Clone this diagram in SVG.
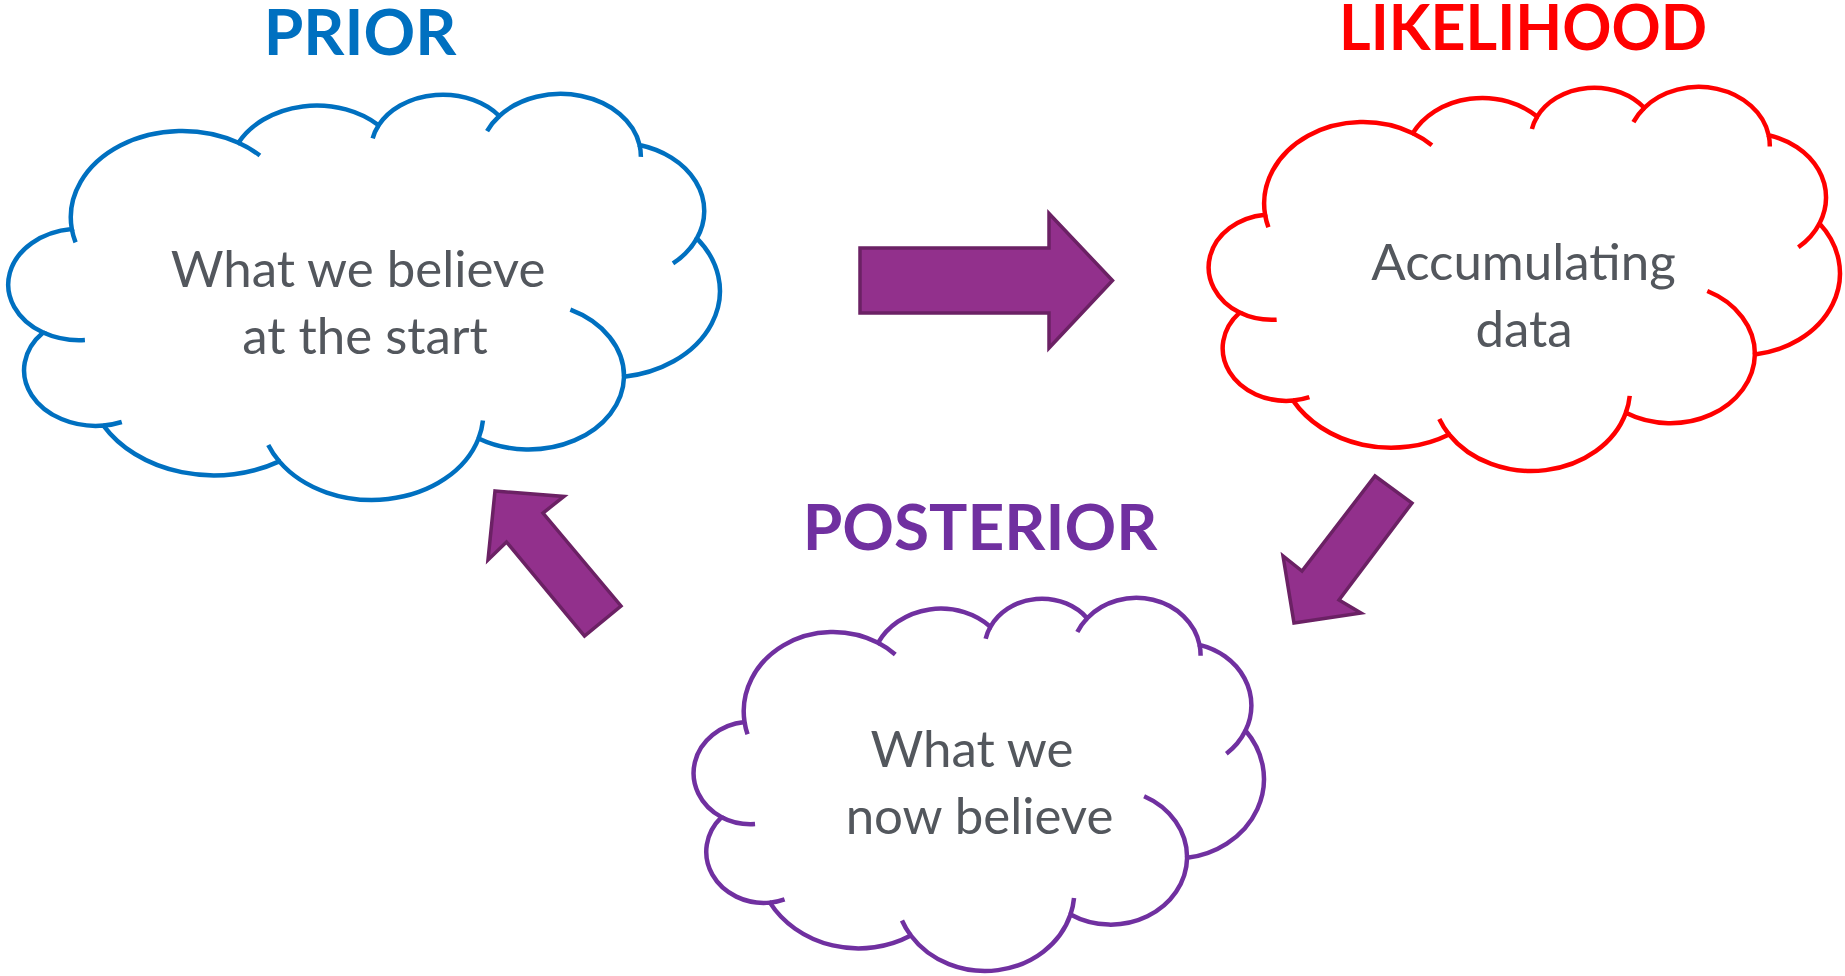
<svg xmlns="http://www.w3.org/2000/svg" xmlns:xlink="http://www.w3.org/1999/xlink" width="1845" height="976" viewBox="0 0 1845 976">
<style>
.title{font-family:Lato,"Open Sans","Liberation Sans",sans-serif;font-weight:700;font-size:64px;text-anchor:middle}
.body{font-family:Lato,"Open Sans","Liberation Sans",sans-serif;font-size:51px;fill:#53575d;text-anchor:middle}
.arrow{fill:#92308c;stroke:#6b2164;stroke-width:3.5;stroke-linejoin:miter}
</style>
<defs>
<g id="cloudShape">
<path fill="#fff" vector-effect="non-scaling-stroke" stroke-width="4.5" d="M3900,14370 A6753,9190 0 0 1 14000,5192 A5333,7267 0 0 1 22500,3331 A4365,5945 0 0 1 29820,2340 A4857,6595 0 0 1 38324,5426 A5333,7273 0 0 1 41798,15354 A6775,9220 0 0 1 37381,30090 A5785,7867 0 0 1 28560,36659 A6752,9215 0 0 1 16478,39090 A7720,10543 0 0 1 5820,35280 A4360,5918 0 0 1 2160,25380 A4345,5945 0 0 1 3900,14370 Z"/>
<path fill="none" vector-effect="non-scaling-stroke" stroke-width="4.5" d="M4693,26177 A4345,5945 0 0 1 2160,25380 M6928,34899 A4360,5918 0 0 1 5820,35280 M16478,39090 A6752,9215 0 0 1 15810,37348 M28827,34751 A6752,9215 0 0 1 28560,36659 M34129,22954 A5785,7867 0 0 1 37381,30090 M41798,15354 A5333,7273 0 0 1 40350,18031 M38324,5426 A4857,6595 0 0 1 38400,6690 M29078,3952 A4857,6595 0 0 1 29820,2340 M22141,4720 A4365,5945 0 0 1 22500,3331 M14000,5192 A6753,9190 0 0 1 15303,6544 M4127,15789 A6753,9190 0 0 1 3900,14370"/>
</g>
</defs>

<g id="prior">
<text class="title" x="360" y="55" fill="#0070c0">PRIOR</text>
<g stroke="#0070c0" transform="translate(7.5,94) scale(0.016493,0.0093981)"><use href="#cloudShape" xlink:href="#cloudShape"/></g>
<text class="body" x="358" y="287">What we believe</text>
<text class="body" x="365" y="354">at the start</text>
</g>

<g id="likelihood">
<text class="title" x="1523" y="50" fill="#ff0000" textLength="368" lengthAdjust="spacingAndGlyphs">LIKELIHOOD</text>
<g stroke="#ff0000" transform="translate(1208,87) scale(0.014630,0.0088889)"><use href="#cloudShape" xlink:href="#cloudShape"/></g>
<text class="body" x="1523.5" y="280">Accumulating</text>
<text class="body" x="1524" y="347">data</text>
</g>

<g id="posterior">
<text class="title" x="980" y="550" fill="#7030a0">POSTERIOR</text>
<g stroke="#7030a0" transform="translate(693,598) scale(0.013218,0.0086343)"><use href="#cloudShape" xlink:href="#cloudShape"/></g>
<text class="body" x="972" y="767">What we</text>
<text class="body" x="979.5" y="834">now believe</text>
</g>

<g id="connectors">
<polygon class="arrow" points="860,248 1049,248 1049,213.5 1112.5,280.5 1049,348 1049,313 860,313"/>
<polygon class="arrow" points="1375,476 1412,503 1339,600 1361,613 1294,623 1283,556 1302,571"/>
<polygon class="arrow" points="495,491 564,496.5 543,513 621,606 584.5,636 506.5,542 488,560"/>
</g>
</svg>
